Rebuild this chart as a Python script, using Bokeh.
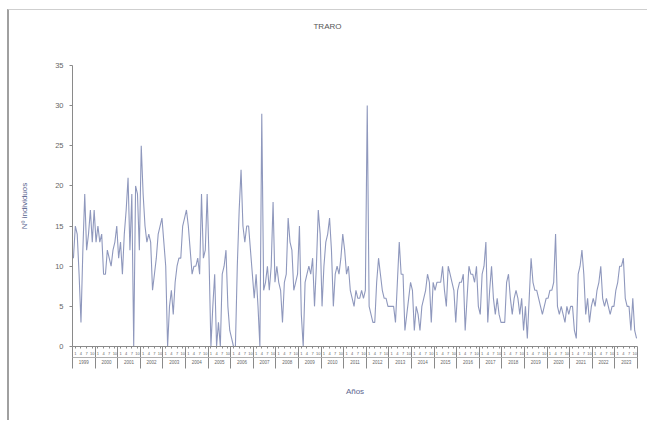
from bokeh.plotting import figure
from bokeh.models import FixedTicker, LinearAxis, Range1d, Label
from bokeh.embed import file_html
from bokeh.resources import INLINE

# ---- data ----
years = [str(y) for y in range(1999, 2024)]
month_labels = ["1", "4", "7", "10"]
individuos = [
    11, 15, 14, 9, 3, 12, 19, 12, 14, 17,
    13, 17, 13, 15, 13, 14, 9, 9, 12, 11,
    10, 12, 13, 15, 11, 13, 9, 14, 17, 21,
    12, 19, 0, 20, 19, 12, 25, 19, 15, 13,
    14, 13, 7, 9, 11, 14, 15, 16, 13, 10,
    0, 5, 7, 4, 8, 10, 11, 11, 15, 16,
    17, 15, 12, 9, 10, 10, 11, 9, 19, 11,
    12, 19, 11, 0, 5, 9, 0, 3, 0, 9,
    10, 12, 5, 2, 1, 0, 0, 10, 17, 22,
    15, 13, 15, 15, 12, 9, 6, 9, 5, 0,
    29, 7, 8, 10, 7, 10, 18, 8, 10, 8,
    7, 3, 8, 9, 16, 13, 12, 7, 8, 9,
    15, 4, 0, 8, 9, 10, 9, 11, 5, 10,
    17, 14, 5, 10, 13, 14, 16, 12, 5, 9,
    10, 9, 11, 14, 12, 9, 10, 7, 6, 5,
    7, 6, 6, 7, 6, 7, 30, 5, 4, 3,
    3, 8, 11, 9, 7, 6, 6, 5, 5, 5,
    5, 3, 8, 13, 9, 9, 2, 4, 6, 8,
    7, 2, 5, 4, 2, 5, 6, 7, 9, 8,
    3, 8, 7, 8, 8, 8, 10, 7, 5, 10,
    9, 8, 7, 3, 7, 8, 8, 9, 2, 6,
    10, 9, 9, 8, 10, 5, 4, 9, 10, 13,
    3, 7, 10, 6, 4, 6, 4, 3, 3, 3,
    8, 9, 6, 4, 6, 7, 6, 4, 6, 2,
    5, 1, 6, 11, 8, 7, 7, 6, 5, 4,
    5, 6, 6, 7, 7, 8, 14, 5, 4, 5,
    4, 3, 5, 4, 5, 5, 2, 1, 9, 10,
    12, 9, 4, 6, 3, 5, 6, 5, 7, 8,
    10, 6, 5, 6, 5, 4, 5, 5, 7, 8,
    10, 10, 11, 6, 5, 5, 2, 6, 2, 1,
]
y_ticks = [0, 5, 10, 15, 20, 25, 30, 35]
title_text = "TRARO"
y_title = "Nº individuos"
x_title = "Años"

FONT = "Liberation Sans"
AXIS_COL = "#8a8a8a"
TXT_COL = "#666666"
LABEL_COL = "#5c6690"

n_years = len(years)
months_per_year = 12
n_months = n_years * months_per_year
x = [i + 0.5 for i in range(len(individuos))]

y_axis_max = y_ticks[-1]
y_frame_top = 40.6  # frame extends above the axis so the title sits inside it

p = figure(width=640, height=411, output_backend="svg", toolbar_location=None,
           x_range=Range1d(0, n_months), y_range=Range1d(0, y_frame_top),
           x_axis_type=None, y_axis_type=None)
p.grid.visible = False
p.outline_line_color = None
p.min_border_left = 63
p.min_border_right = 12
p.min_border_top = 10
p.min_border_bottom = 75
p.styles = {"margin-left": "7px", "margin-top": "9px",
            "border-left": "2px solid #a0a0a0", "border-top": "1px solid #cfcfcf"}

p.line(x, individuos, line_color="#8f98bd", line_width=1.1)

# title
p.add_layout(Label(x=n_months * 0.4513, y=39.86, text=title_text,
                   text_font=FONT, text_font_size="8px", text_color="#555555",
                   text_align="center", text_baseline="middle"))

# y axis
yax = LinearAxis(ticker=FixedTicker(ticks=y_ticks, minor_ticks=[]),
                 bounds=(0, y_axis_max))
yax.major_label_text_font = FONT
yax.major_label_text_font_size = "7.5px"
yax.major_label_text_color = TXT_COL
yax.major_label_standoff = 6
yax.major_tick_out = 3
yax.major_tick_in = 0
yax.axis_line_color = AXIS_COL
yax.major_tick_line_color = AXIS_COL
p.add_layout(yax, "left")

# y axis title, centred on the 0-35 span of the axis
ymid = y_axis_max / 2
ylab = LinearAxis(ticker=FixedTicker(ticks=[ymid], minor_ticks=[]))
ylab.major_label_overrides = {ymid: y_title}
ylab.major_label_orientation = "vertical"
ylab.major_label_text_font = FONT
ylab.major_label_text_font_size = "8px"
ylab.major_label_text_color = LABEL_COL
ylab.major_label_standoff = 17
ylab.major_tick_line_color = None
ylab.axis_line_color = None
p.add_layout(ylab, "left")

# month sub-axis (year separators as long minor ticks)
mticks, moverrides = [], {}
for k in range(n_years):
    for j, lab in enumerate(month_labels):
        t = k * months_per_year + 1.5 + 3 * j
        mticks.append(t)
        moverrides[t] = lab
boundaries = [k * months_per_year for k in range(n_years + 1)]
mx = LinearAxis(ticker=FixedTicker(ticks=mticks, minor_ticks=boundaries))
mx.major_label_overrides = moverrides
mx.major_label_text_font = FONT
mx.major_label_text_font_size = "4px"
mx.major_label_text_color = TXT_COL
mx.major_label_standoff = -17
mx.major_tick_out = 2
mx.major_tick_in = 0
mx.minor_tick_out = 22
mx.minor_tick_in = 0
mx.axis_line_color = AXIS_COL
mx.major_tick_line_color = AXIS_COL
mx.minor_tick_line_color = AXIS_COL
p.add_layout(mx, "below")

# year axis
yticks_x, yoverrides = [], {}
for k, yr in enumerate(years):
    t = k * months_per_year + 6
    yticks_x.append(t)
    yoverrides[t] = yr
yrx = LinearAxis(ticker=FixedTicker(ticks=yticks_x, minor_ticks=[]))
yrx.major_label_overrides = yoverrides
yrx.major_label_text_font = FONT
yrx.major_label_text_font_size = "4.5px"
yrx.major_label_text_color = TXT_COL
yrx.major_label_standoff = 2
yrx.major_tick_out = 0
yrx.major_tick_in = 0
yrx.axis_line_color = "#b0b0b0"
yrx.axis_label = x_title
yrx.axis_label_text_font = FONT
yrx.axis_label_text_font_size = "8px"
yrx.axis_label_text_font_style = "normal"
yrx.axis_label_text_color = LABEL_COL
yrx.axis_label_standoff = 20
p.add_layout(yrx, "below")

open("out.html", "w").write(file_html(p, INLINE))
